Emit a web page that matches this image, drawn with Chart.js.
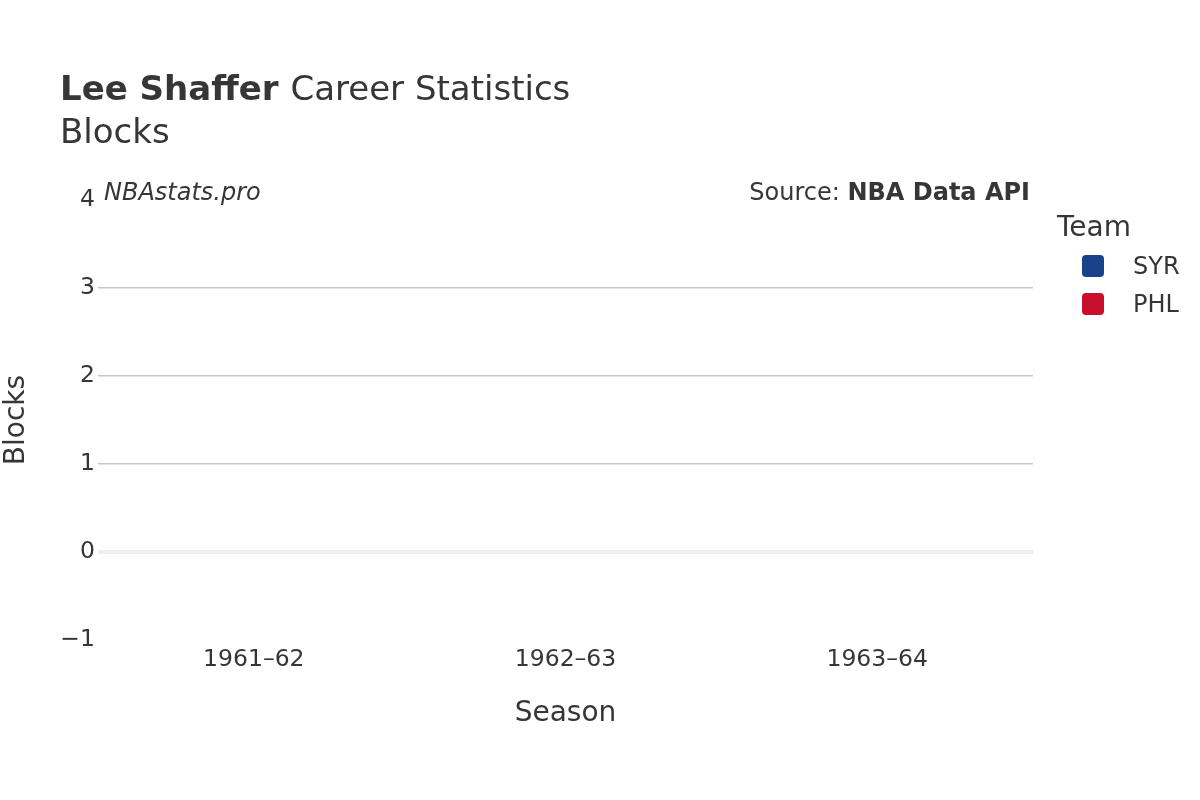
<!DOCTYPE html>
<html>
<head>
<meta charset="utf-8">
<script src="https://cdn.jsdelivr.net/npm/chart.js"></script>
<style>
  html, body { margin: 0; padding: 0; background: #fff; }
  canvas { display: block; }
</style>
</head>
<body>
<canvas id="chart" width="1200" height="800"></canvas>
<script>
// chart values
const seasons = ['1961–62', '1962–63', '1963–64'];
const teams = ['SYR', 'PHL'];
const teamColors = ['#1a428a', '#c8102e'];
const syrBlocks = [0, 0, null];
const phlBlocks = [null, null, 0];
const yTicks = [-1, 0, 1, 2, 3, 4];

const FONT = '"DejaVu Sans", "Liberation Sans", sans-serif';
const TEXT = '#363636';

// titles, watermark and legend drawn on top of the canvas
const decorations = {
  id: 'decorations',
  afterDraw(chart) {
    const ctx = chart.ctx;
    const area = chart.chartArea;
    ctx.save();
    ctx.fillStyle = TEXT;
    ctx.textBaseline = 'middle';
    ctx.textAlign = 'left';

    ctx.font = 'bold 34px ' + FONT;
    ctx.fillText('Lee Shaffer', 60, 91);
    const w = ctx.measureText('Lee Shaffer ').width;
    ctx.font = '34px ' + FONT;
    ctx.fillText('Career Statistics', 60 + w, 91);
    ctx.fillText('Blocks', 60, 134);

    ctx.font = 'italic 24px ' + FONT;
    ctx.fillText('NBAstats.pro', 104, 194);

    ctx.textAlign = 'right';
    ctx.font = 'bold 24px ' + FONT;
    ctx.fillText('NBA Data API', area.right - 3, 194);
    const bw = ctx.measureText('NBA Data API').width;
    ctx.font = '24px ' + FONT;
    ctx.fillText('Source: ', area.right - 3 - bw, 194);

    // legend
    ctx.textAlign = 'left';
    ctx.font = '28px ' + FONT;
    ctx.fillText('Team', 1057, 229);
    ctx.font = '24px ' + FONT;
    chart.data.datasets.forEach((ds, i) => {
      const cy = 266 + i * 38;
      ctx.fillStyle = ds.backgroundColor;
      ctx.beginPath();
      ctx.roundRect(1082, cy - 11, 22, 22, 4);
      ctx.fill();
      ctx.fillStyle = TEXT;
      ctx.fillText(ds.label, 1133, cy + 2);
    });
    ctx.restore();
  }
};

new Chart(document.getElementById('chart'), {
  type: 'bar',
  data: {
    labels: seasons,
    datasets: [
      { label: teams[0], data: syrBlocks, backgroundColor: teamColors[0], borderWidth: 0, skipNull: true },
      { label: teams[1], data: phlBlocks, backgroundColor: teamColors[1], borderWidth: 0, skipNull: true }
    ]
  },
  options: {
    responsive: false,
    animation: false,
    layout: { padding: { left: 0, top: 200, right: 167, bottom: 69 } },
    plugins: {
      legend: { display: false },
      tooltip: { enabled: false }
    },
    scales: {
      x: {
        afterFit(scale) { scale.height = 91; },
        grid: { display: false, drawTicks: false },
        border: { display: false },
        ticks: { color: TEXT, font: { family: FONT, size: 23.5 }, padding: 6, maxRotation: 0 },
        title: { display: true, text: 'Season', color: TEXT, font: { family: FONT, size: 28 }, padding: { top: 0, bottom: 0 } }
      },
      y: {
        min: -1,
        max: 4,
        afterFit(scale) { scale.width = 98; },
        afterBuildTicks(scale) { scale.ticks = yTicks.map(v => ({ value: v })); },
        grid: {
          drawTicks: false,
          color: c => (c.tick && (c.tick.value === 4 || c.tick.value === -1)) ? 'rgba(0,0,0,0)' : (c.tick && c.tick.value === 0 ? '#eeeeee' : '#c8c8c8'),
          lineWidth: c => (c.tick && c.tick.value === 0) ? 4 : 1.5
        },
        border: { display: false },
        ticks: {
          color: TEXT,
          font: { family: FONT, size: 23.5 },
          padding: 3,
          callback: v => (v < 0 ? '−' + Math.abs(v) : String(v))
        },
        title: { display: true, text: 'Blocks', color: TEXT, font: { family: FONT, size: 28 }, padding: { top: 0, bottom: 0 } }
      }
    }
  },
  plugins: [decorations]
});
</script>
</body>
</html>
